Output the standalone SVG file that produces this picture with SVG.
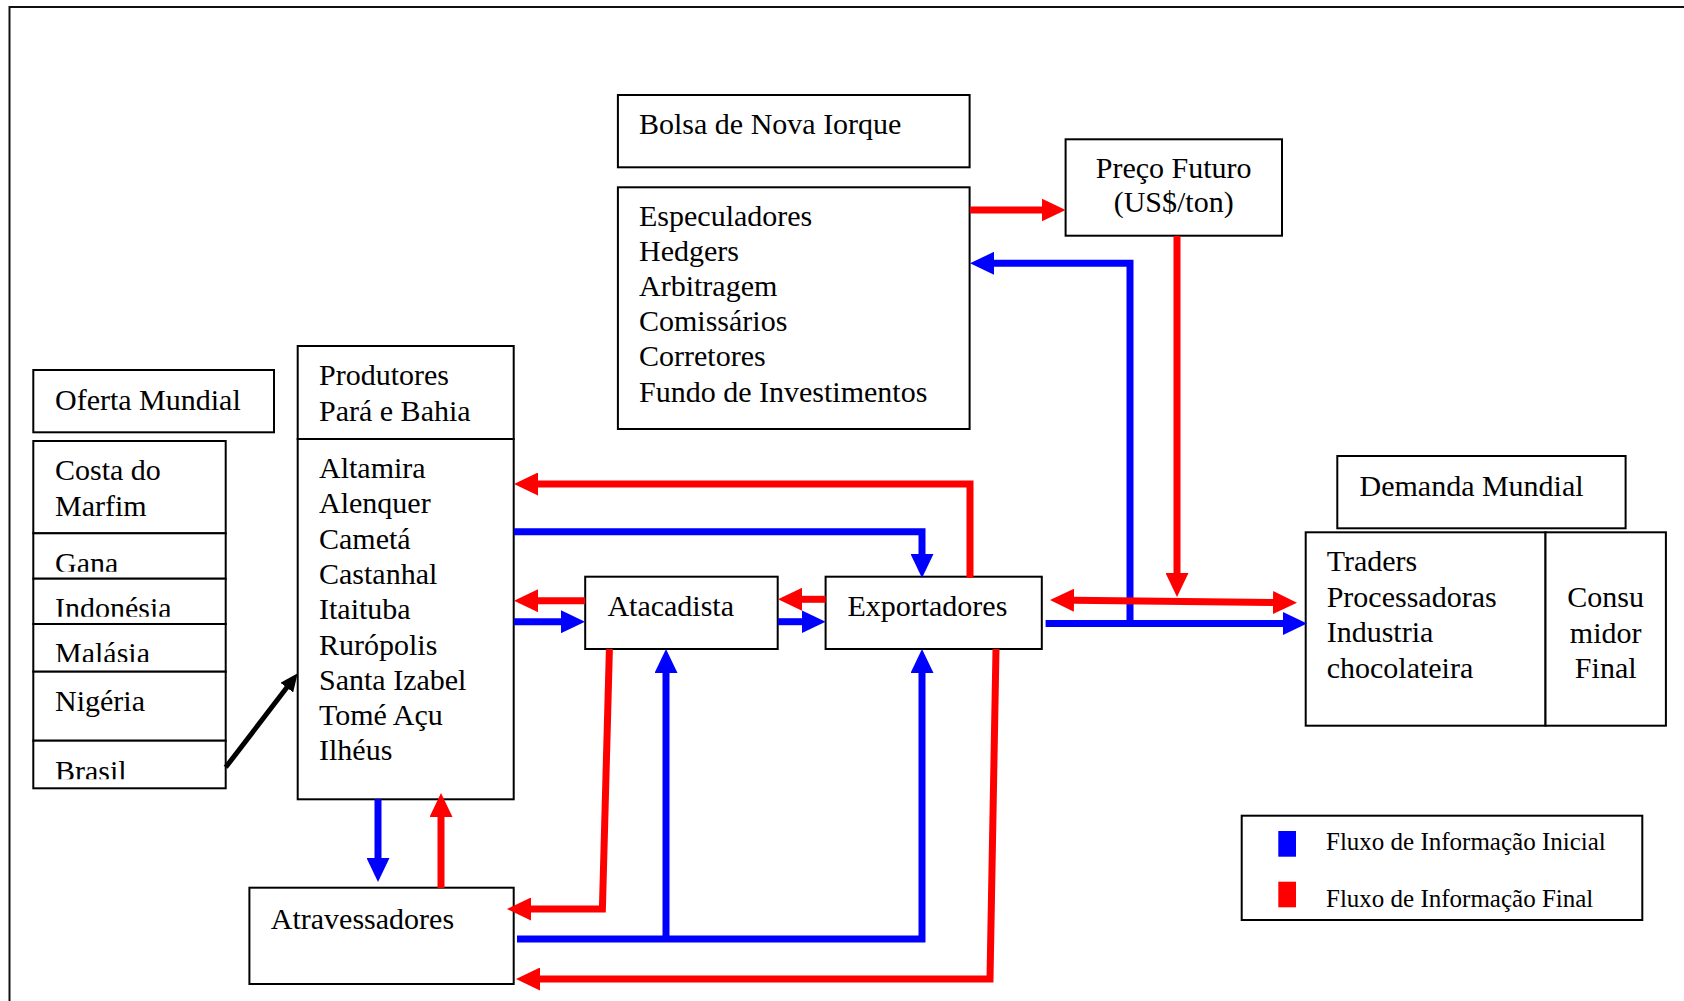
<svg xmlns="http://www.w3.org/2000/svg" width="1684" height="1001" viewBox="0 0 1684 1001">
<defs>
<style>
text{font-family:"Liberation Serif","Times New Roman",serif;font-size:30px;fill:#000}
.box{fill:#fff;stroke:#000;stroke-width:2}
.r{fill:none;stroke:#f00;stroke-width:7;stroke-linejoin:miter}
.b{fill:none;stroke:#00f;stroke-width:7;stroke-linejoin:miter}
.k{fill:none;stroke:#000;stroke-width:5}
.leg{font-size:25px}
</style>
<marker id="ahR" viewBox="0 0 24 23" refX="1" refY="11.5" markerWidth="24" markerHeight="23" markerUnits="userSpaceOnUse" orient="auto-start-reverse"><path d="M0,0 L24,11.5 L0,23 z" fill="#f00"/></marker>
<marker id="ahB" viewBox="0 0 24 23" refX="1" refY="11.5" markerWidth="24" markerHeight="23" markerUnits="userSpaceOnUse" orient="auto"><path d="M0,0 L24,11.5 L0,23 z" fill="#00f"/></marker>
<marker id="ahK" viewBox="0 0 18 16" refX="1" refY="8" markerWidth="18" markerHeight="16" markerUnits="userSpaceOnUse" orient="auto"><path d="M0,0 L18,8 L0,16 z" fill="#000"/></marker>
<clipPath id="cGana"><rect x="33" y="533" width="193" height="38.7"/></clipPath>
<clipPath id="cIndo"><rect x="33" y="579" width="193" height="37.7"/></clipPath>
<clipPath id="cMala"><rect x="33" y="624" width="193" height="38"/></clipPath>
<clipPath id="cBras"><rect x="33" y="741" width="193" height="38.3"/></clipPath>
</defs>

<path d="M9.5,1001 V7 H1684" fill="none" stroke="#111" stroke-width="2"/>

<g id="bolsa">
<rect class="box" x="617.9" y="95" width="351.7" height="72.3"/>
<text x="639" y="134">Bolsa de Nova Iorque</text>
</g>

<g id="especuladores">
<rect class="box" x="617.9" y="187.3" width="351.7" height="241.7"/>
<text x="639" y="225.5">Especuladores</text>
<text x="639" y="260.7">Hedgers</text>
<text x="639" y="295.9">Arbitragem</text>
<text x="639" y="331.1">Comissários</text>
<text x="639" y="366.3">Corretores</text>
<text x="639" y="401.5">Fundo de Investimentos</text>
</g>

<g id="preco-futuro">
<rect class="box" x="1065.6" y="139.3" width="216.4" height="96.4"/>
<text x="1173.7" y="178.3" text-anchor="middle">Preço Futuro</text>
<text x="1173.7" y="212.3" text-anchor="middle">(US$/ton)</text>
</g>

<g id="oferta-mundial">
<rect class="box" x="33.3" y="370" width="240.7" height="62.3"/>
<text x="55" y="410">Oferta Mundial</text>
</g>

<g id="paises">
<rect class="box" x="33.3" y="441" width="192.4" height="92.3"/>
<text x="55" y="480">Costa do</text>
<text x="55" y="515.7">Marfim</text>
<rect class="box" x="33.3" y="533.3" width="192.4" height="45.4"/>
<text x="55" y="573" clip-path="url(#cGana)">Gana</text>
<rect class="box" x="33.3" y="578.7" width="192.4" height="45.3"/>
<text x="55" y="618" clip-path="url(#cIndo)">Indonésia</text>
<rect class="box" x="33.3" y="624" width="192.4" height="47.7"/>
<text x="55" y="663" clip-path="url(#cMala)">Malásia</text>
<rect class="box" x="33.3" y="671.7" width="192.4" height="69"/>
<text x="55" y="711">Nigéria</text>
<rect class="box" x="33.3" y="740.7" width="192.4" height="47.6"/>
<text x="55" y="780.5" clip-path="url(#cBras)">Brasil</text>
</g>

<g id="produtores">
<rect class="box" x="297.7" y="346" width="216" height="93"/>
<text x="319" y="385">Produtores</text>
<text x="319" y="420.5">Pará e Bahia</text>
<rect class="box" x="297.7" y="439" width="216" height="360.3"/>
<text x="319" y="478">Altamira</text>
<text x="319" y="513.3">Alenquer</text>
<text x="319" y="548.6">Cametá</text>
<text x="319" y="583.9">Castanhal</text>
<text x="319" y="619.2">Itaituba</text>
<text x="319" y="654.5">Rurópolis</text>
<text x="319" y="689.8">Santa Izabel</text>
<text x="319" y="725.1">Tomé Açu</text>
<text x="319" y="760.4">Ilhéus</text>
</g>

<g id="atacadista">
<rect class="box" x="585.2" y="576.7" width="192.5" height="72.3"/>
<text x="607.4" y="616">Atacadista</text>
</g>

<g id="exportadores">
<rect class="box" x="825.6" y="576.7" width="216.2" height="72.3"/>
<text x="847.4" y="616">Exportadores</text>
</g>

<g id="atravessadores">
<rect class="box" x="249.4" y="887.7" width="264.3" height="96.3"/>
<text x="270.8" y="929">Atravessadores</text>
</g>

<g id="demanda-mundial">
<rect class="box" x="1337.3" y="456" width="288.3" height="72.3"/>
<text x="1359.5" y="496">Demanda Mundial</text>
</g>

<g id="traders">
<rect class="box" x="1305.7" y="532.3" width="239.8" height="193.4"/>
<text x="1326.7" y="571">Traders</text>
<text x="1326.7" y="606.5">Processadoras</text>
<text x="1326.7" y="642">Industria</text>
<text x="1326.7" y="677.5">chocolateira</text>
</g>

<g id="consumidor-final">
<rect class="box" x="1545.5" y="532.3" width="120.4" height="193.4"/>
<text x="1605.7" y="607" text-anchor="middle">Consu</text>
<text x="1605.7" y="642.5" text-anchor="middle">midor</text>
<text x="1605.7" y="678" text-anchor="middle">Final</text>
</g>

<g id="legenda">
<rect class="box" x="1241.7" y="815.7" width="400.6" height="104.3"/>
<rect x="1278.3" y="831" width="17.7" height="25.7" fill="#00f"/>
<rect x="1278.3" y="881.7" width="17.7" height="25.6" fill="#f00"/>
<text class="leg" x="1326" y="850">Fluxo de Informação Inicial</text>
<text class="leg" x="1326" y="907">Fluxo de Informação Final</text>
</g>

<g id="connectors">
<path class="r" d="M970,210 H1042.6" marker-end="url(#ahR)"/>
<path class="b" d="M1130,627 V263.3 H993" marker-end="url(#ahB)"/>
<path class="r" d="M1177,236 V574" marker-end="url(#ahR)"/>
<path class="r" d="M1073,600.2 L1274,602.5" marker-start="url(#ahR)" marker-end="url(#ahR)"/>
<path class="b" d="M1045.6,623.5 H1284" marker-end="url(#ahB)"/>
<path class="r" d="M970,578 V484 H537" marker-end="url(#ahR)"/>
<path class="b" d="M514,531.7 H922 V555" marker-end="url(#ahB)"/>
<path class="r" d="M585,600.7 H537" marker-end="url(#ahR)"/>
<path class="b" d="M514,621.7 H562" marker-end="url(#ahB)"/>
<path class="r" d="M825.6,599.3 H801" marker-end="url(#ahR)"/>
<path class="b" d="M778,621.7 H802.6" marker-end="url(#ahB)"/>
<path class="r" d="M609.4,649 L602.4,909 H530" marker-end="url(#ahR)"/>
<path class="b" d="M517,939 H922 V672" marker-end="url(#ahB)"/>
<path class="b" d="M666,939 V672" marker-end="url(#ahB)"/>
<path class="r" d="M996,649 L990,979 H539" marker-end="url(#ahR)"/>
<path class="b" d="M378,799 V859" marker-end="url(#ahB)"/>
<path class="r" d="M441,888 V816" marker-end="url(#ahR)"/>
<path class="k" d="M225.7,767.3 L287.4,686.8" marker-end="url(#ahK)"/>
</g>
</svg>
